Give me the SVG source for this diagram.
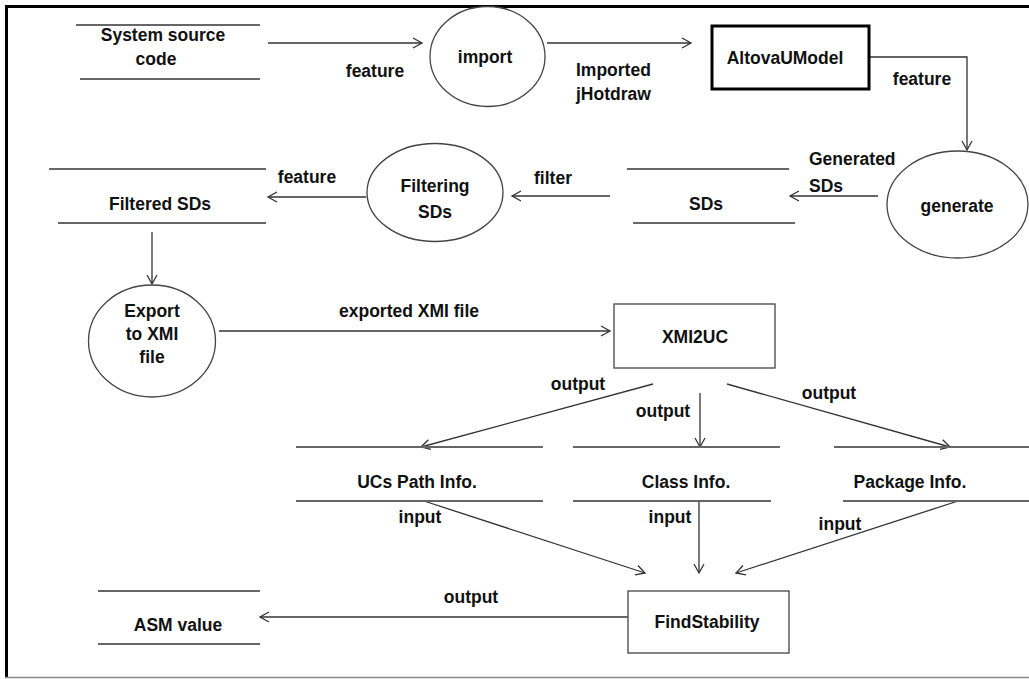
<svg xmlns="http://www.w3.org/2000/svg" width="1029" height="679" viewBox="0 0 1029 679">
<defs>
<marker id="arr" markerUnits="userSpaceOnUse" markerWidth="12" markerHeight="12" refX="9" refY="5" orient="auto" overflow="visible">
<path d="M0,0 L9,5 L0,10" fill="none" stroke="#333" stroke-width="1.3"/>
</marker>
</defs>
<style>
text{font-family:"Liberation Sans",Arial,sans-serif;font-weight:bold;font-size:17.5px;fill:#111}
.c{text-anchor:middle}
.shape{fill:#fff;stroke:#444;stroke-width:1.3}
.store{stroke:#666;stroke-width:2;fill:none}
.conn{stroke:#333;stroke-width:1.3;fill:none;marker-end:url(#arr)}
.frame{stroke:#000;stroke-width:3;fill:none}
</style>
<rect width="1029" height="679" fill="#fff"/>
<g id="frame">
<line class="frame" x1="5" y1="6.5" x2="1029" y2="6.5"/>
<line class="frame" x1="6.5" y1="5" x2="6.5" y2="678"/>
<line x1="5" y1="677.5" x2="1029" y2="677.5" stroke="#888" stroke-width="1.5"/>
</g>
<g id="connectors">
<path class="conn" d="M268,43 H422"/>
<path class="conn" d="M547,43 H691"/>
<path class="conn" d="M869,57 H967 V150"/>
<path class="conn" d="M878,196 H790"/>
<path class="conn" d="M610,196 H512"/>
<path class="conn" d="M366,197 H268"/>
<path class="conn" d="M152,232 V284"/>
<path class="conn" d="M219,331 H610"/>
<path class="conn" d="M653,384 L421,447"/>
<path class="conn" d="M700,393 V447"/>
<path class="conn" d="M727,384 L950,447"/>
<path class="conn" d="M424,501 L645,573"/>
<path class="conn" d="M699,501 V573"/>
<path class="conn" d="M958,501 L736,573"/>
<path class="conn" d="M628,617 H260"/>
<text class="c" x="375" y="77">feature</text>
<text x="576" y="76">Imported</text>
<text x="576" y="100">jHotdraw</text>
<text class="c" x="922" y="85">feature</text>
<text x="809" y="165">Generated</text>
<text x="809" y="192">SDs</text>
<text class="c" x="553" y="184">filter</text>
<text class="c" x="307" y="183">feature</text>
<text class="c" x="409" y="317">exported XMI file</text>
<text class="c" x="578" y="390">output</text>
<text class="c" x="663" y="417">output</text>
<text class="c" x="829" y="399">output</text>
<text class="c" x="420" y="523">input</text>
<text class="c" x="670" y="523">input</text>
<text class="c" x="840" y="530">input</text>
<text class="c" x="471" y="603">output</text>
</g>
<g id="system-source-code">
<line class="store" x1="76" y1="25" x2="260" y2="25"/>
<line class="store" x1="80" y1="79" x2="260" y2="79"/>
<text class="c" x="163" y="41">System source</text>
<text class="c" x="156" y="65">code</text>
</g>
<g id="import">
<ellipse class="shape" cx="487.5" cy="56.5" rx="57.5" ry="50"/>
<text class="c" x="485" y="63">import</text>
</g>
<g id="altova">
<rect x="712" y="26" width="157" height="63" fill="#fff" stroke="#000" stroke-width="3"/>
<text class="c" x="785" y="64">AltovaUModel</text>
</g>
<g id="generate">
<ellipse class="shape" cx="957.5" cy="204.5" rx="70.5" ry="53.5"/>
<text class="c" x="957" y="212">generate</text>
</g>
<g id="sds">
<line class="store" x1="627" y1="169" x2="789" y2="169"/>
<line class="store" x1="633" y1="223" x2="795" y2="223"/>
<text class="c" x="706" y="210">SDs</text>
</g>
<g id="filtering">
<ellipse class="shape" cx="435" cy="192.5" rx="68" ry="49"/>
<text class="c" x="435" y="192">Filtering</text>
<text class="c" x="435" y="218">SDs</text>
</g>
<g id="filtered-sds">
<line class="store" x1="49" y1="169" x2="266" y2="169"/>
<line class="store" x1="58" y1="223" x2="266" y2="223"/>
<text class="c" x="160" y="210">Filtered SDs</text>
</g>
<g id="export">
<ellipse class="shape" cx="152" cy="341" rx="63.5" ry="56"/>
<text class="c" x="152" y="317">Export</text>
<text class="c" x="152" y="340">to XMI</text>
<text class="c" x="152" y="363">file</text>
</g>
<g id="xmi2uc">
<rect class="shape" x="614" y="304" width="161" height="64"/>
<text class="c" x="695" y="343">XMI2UC</text>
</g>
<g id="ucs-path">
<line class="store" x1="296" y1="447" x2="543" y2="447"/>
<line class="store" x1="296" y1="501" x2="543" y2="501"/>
<text class="c" x="417" y="488">UCs Path Info.</text>
</g>
<g id="class-info">
<line class="store" x1="573" y1="447" x2="780" y2="447"/>
<line class="store" x1="573" y1="501" x2="771" y2="501"/>
<text class="c" x="686" y="488">Class Info.</text>
</g>
<g id="package-info">
<line class="store" x1="834" y1="447" x2="1029" y2="447"/>
<line class="store" x1="843" y1="501" x2="1029" y2="501"/>
<text class="c" x="910" y="488">Package Info.</text>
</g>
<g id="findstability">
<rect class="shape" x="628" y="591" width="161" height="62"/>
<text class="c" x="707" y="628">FindStability</text>
</g>
<g id="asm-value">
<line class="store" x1="98" y1="591" x2="260" y2="591"/>
<line class="store" x1="98" y1="644" x2="260" y2="644"/>
<text class="c" x="178" y="631">ASM value</text>
</g>
</svg>
